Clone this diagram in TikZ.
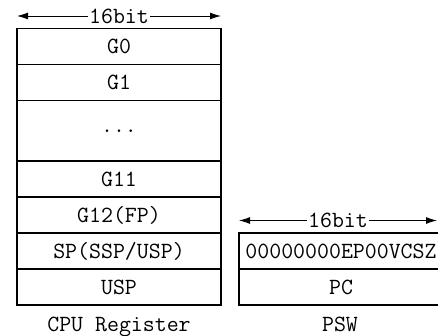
\documentclass[tikz,border=0pt]{standalone}
\usepackage{fontspec}
\usepackage{tikz}
\usetikzlibrary{arrows.meta, positioning, calc}
\tikzset{
	reg/.style     ={rectangle, draw=black, line width=1.1pt, minimum width=204pt, minimum height=36pt, inner sep=0pt, outer sep=0pt, text centered},
	bitarrow/.style={{Latex[length=11pt,width=7pt]}-{Latex[length=11pt,width=7pt]}, line width=0.9pt},
	bitlbl/.style  ={fill=white, inner sep=1pt},
	caption/.style ={anchor=base, inner sep=0pt},
}

\begin{document}
\begin{tikzpicture}[font=\ttfamily\fontsize{23.2}{27}\selectfont]
	\useasboundingbox (0,0) rectangle (438pt,-336pt);
	% CPU register stack
	\node[reg] (g0) at (119pt,-46.5pt) {G0};
	\node[reg, below=0pt of g0] (g1) {G1};
	\node[reg, below=0pt of g1, minimum height=60.5pt] (gdots) {...};
	\node[reg, below=0pt of gdots] (g11) {G11};
	\node[reg, below=0pt of g11] (g12) {G12(FP)};
	\node[reg, below=0pt of g12] (sp) {SP(SSP/USP)};
	\node[reg, below=0pt of sp] (usp) {USP};
	% PSW
	\node[reg, right=18pt of sp] (flags) {00000000EP00VCSZ};
	\node[reg, below=0pt of flags] (pc) {PC};
	% width arrows
	\coordinate (cl) at ($(g0.north west)+(0,12.5pt)$);
	\coordinate (cr) at ($(g0.north east)+(0,12.5pt)$);
	\draw[bitarrow] (cl) -- (cr) node[midway, bitlbl] {16bit};
	\coordinate (pl) at ($(flags.north west)+(0,12.5pt)$);
	\coordinate (pr) at ($(flags.north east)+(-6pt,12.5pt)$);
	\draw[bitarrow] (pl) -- (pr) node[midway, bitlbl] {16bit};
	% captions
	\node[caption] (cpulbl) at ($(usp.south)+(0,-26pt)$) {CPU Register};
	\node[caption] (pswlbl) at ($(pc.south)+(-1pt,-26pt)$) {PSW};
\end{tikzpicture}
\end{document}
